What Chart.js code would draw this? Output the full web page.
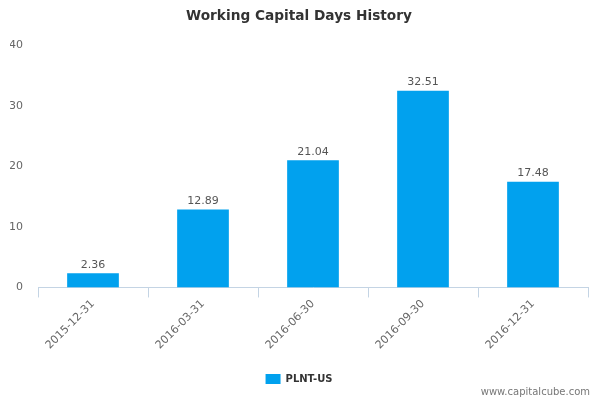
<!DOCTYPE html>
<html>
<head>
<meta charset="utf-8">
<script src="https://cdn.jsdelivr.net/npm/chart.js@4"></script>
<style>
  body { margin: 0; background: #fff; }
  #wrap { width: 600px; height: 400px; }
</style>
</head>
<body>
<div id="wrap"><canvas id="myChart"></canvas></div>
<script>
const labels = ['2015-12-31', '2016-03-31', '2016-06-30', '2016-09-30', '2016-12-31'];
const values = [2.36, 12.89, 21.04, 32.51, 17.48];
const yTicks = [0, 10, 20, 30, 40];
const seriesName = 'PLNT-US';

Chart.defaults.font.family = '"DejaVu Sans", Verdana, sans-serif';
Chart.defaults.color = '#666';

// value labels above each bar
const barLabels = {
    id: 'barLabels',
    afterDatasetsDraw(chart) {
        const ctx = chart.ctx;
        const meta = chart.getDatasetMeta(0);
        ctx.save();
        ctx.font = '11px "DejaVu Sans", Verdana, sans-serif';
        ctx.fillStyle = '#555';
        ctx.textAlign = 'center';
        ctx.textBaseline = 'bottom';
        meta.data.forEach((bar, i) => {
            ctx.fillText(values[i].toFixed(2), bar.x, bar.y - 3);
        });
        ctx.restore();
    }
};

// site credit bottom right
const credit = {
    id: 'credit',
    afterDraw(chart) {
        const ctx = chart.ctx;
        ctx.save();
        ctx.font = '10px "DejaVu Sans", Verdana, sans-serif';
        ctx.fillStyle = '#777';
        ctx.textAlign = 'right';
        ctx.textBaseline = 'middle';
        ctx.fillText('www.capitalcube.com', 590, 392);
        ctx.restore();
    }
};

const data = {
    labels,
    datasets: [{
        label: seriesName,
        data: values,
        backgroundColor: '#01a1ee',
        borderWidth: 0,
        barPercentage: 0.47,
        categoryPercentage: 1.0,
    }],
};

const config = {
    type: 'bar',
    data: data,
    plugins: [barLabels, credit],
    options: {
        responsive: true,
        maintainAspectRatio: false,
        animation: false,
        layout: {
            padding: { left: 10, right: 12, top: 0, bottom: 6 }
        },
        plugins: {
            title: {
                display: true,
                text: 'Working Capital Days History',
                color: '#333',
                font: { size: 13.7, weight: 'bold' },
                padding: { top: 8, bottom: 21 }
            },
            legend: {
                position: 'bottom',
                labels: {
                    boxWidth: 15,
                    boxHeight: 10,
                    color: '#333',
                    font: { size: 10, weight: 'bold' },
                    padding: 8
                }
            },
            tooltip: { enabled: false }
        },
        scales: {
            x: {
                afterFit(axis) {
                    axis.height += 14;
                },
                grid: {
                    display: true,
                    drawOnChartArea: false,
                    drawTicks: true,
                    tickLength: 10,
                    color: '#c4d4e4'
                },
                border: { display: true, color: '#c4d4e4' },
                ticks: {
                    color: '#666',
                    font: { size: 11 },
                    minRotation: 45,
                    maxRotation: 45,
                    padding: 0
                }
            },
            y: {
                min: 0,
                max: 40,
                afterBuildTicks(axis) {
                    axis.ticks = yTicks.map(v => ({ value: v }));
                },
                afterFit(axis) {
                    axis.width = 28;
                },
                grid: { display: false, drawTicks: false },
                border: { display: false },
                ticks: {
                    color: '#666',
                    font: { size: 11 },
                    padding: 15
                }
            }
        }
    },
};

const myChart = new Chart(document.querySelector('#myChart').getContext('2d'), config);
</script>
</body>
</html>
